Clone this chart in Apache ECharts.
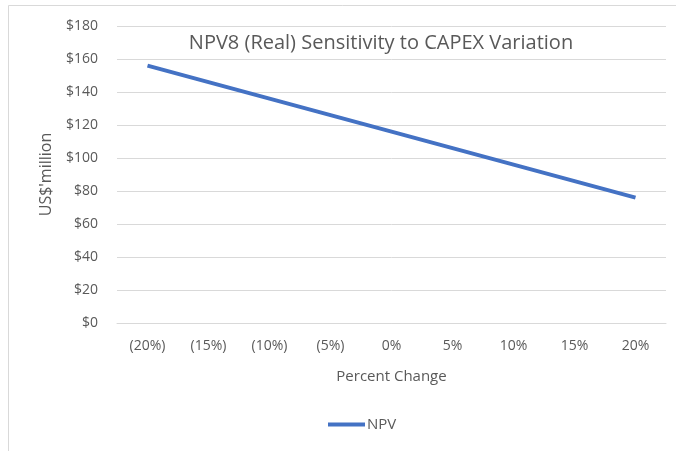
<!DOCTYPE html>
<html>
<head>
<meta charset="utf-8">
<script src="https://cdn.jsdelivr.net/npm/echarts@6/dist/echarts.min.js"></script>
<style>html,body{margin:0;padding:0;background:#fff}#c{width:676px;height:451px}</style>
</head>
<body>
<div id="c"></div>
<script>
const categories = ['(20%)', '(15%)', '(10%)', '(5%)', '0%', '5%', '10%', '15%', '20%'];
const npvValues = [156, 146, 136, 126, 116, 106, 96, 86, 76];
const seriesName = 'NPV';
const chartTitle = 'NPV8 (Real) Sensitivity to CAPEX Variation';
const yAxisTitle = "US$'million";
const xAxisTitle = 'Percent Change';

const font = '"Open Sans", "Noto Sans", sans-serif';
const txt = '#595959';
const chart = echarts.init(document.getElementById('c'));
chart.setOption({
  animation: false,
  backgroundColor: '#fff',
  graphic: [{
    type: 'rect', shape: { x: 8.5, y: 5.5, width: 720, height: 520 },
    style: { fill: 'none', stroke: '#d9d9d9', lineWidth: 1 }, silent: true, z: -1
  }],
  title: {
    text: chartTitle, left: 376, top: 28, textAlign: 'center',
    textStyle: { fontFamily: font, fontSize: 20, fontWeight: 'normal', color: txt }
  },
  grid: { left: 117, right: 10, top: 26, bottom: 128, containLabel: false },
  legend: {
    data: [seriesName], top: 412, left: 323,
    icon: 'rect', itemWidth: 37, itemHeight: 4, itemGap: 4,
    textStyle: { fontFamily: font, fontSize: 15, color: txt, padding: [0, 0, 0, -3] }
  },
  xAxis: {
    type: 'category', data: categories, boundaryGap: true,
    name: xAxisTitle, nameLocation: 'middle', nameGap: 46,
    nameTextStyle: { fontFamily: font, fontSize: 15, color: txt },
    axisLine: { lineStyle: { color: '#d9d9d9' } },
    axisTick: { show: false },
    axisLabel: { fontFamily: font, fontSize: 14, color: txt, margin: 16 }
  },
  yAxis: {
    type: 'value', min: 0, max: 180, interval: 20,
    name: yAxisTitle, nameLocation: 'middle', nameGap: 63, nameRotate: 90,
    nameTextStyle: { fontFamily: font, fontSize: 16, color: txt },
    axisLine: { show: false }, axisTick: { show: false },
    splitLine: { lineStyle: { color: '#d9d9d9', width: 1 } },
    axisLabel: { fontFamily: font, fontSize: 14, color: txt, margin: 19, formatter: v => '$' + v }
  },
  series: [{
    name: seriesName, type: 'line', data: npvValues,
    showSymbol: false, symbol: 'none',
    lineStyle: { color: '#4472C4', width: 4 },
    itemStyle: { color: '#4472C4' }
  }]
});
</script>
</body>
</html>
